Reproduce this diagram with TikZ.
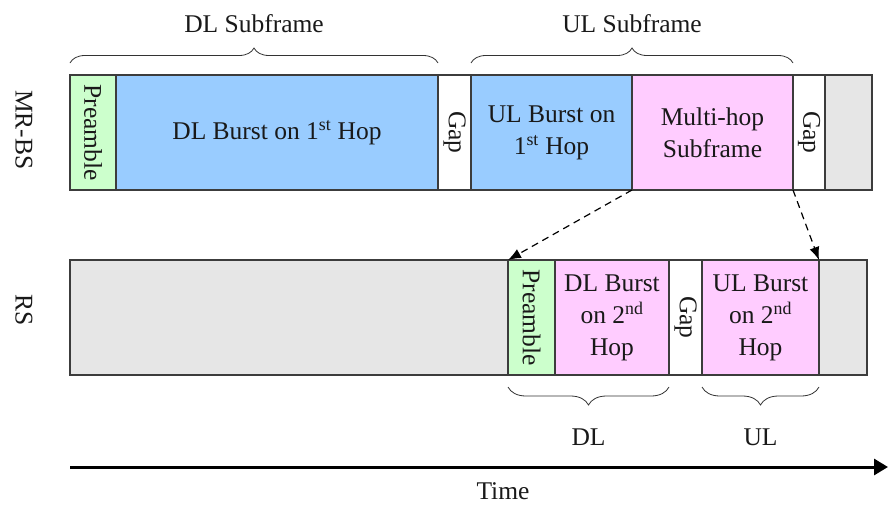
\documentclass[tikz,border=0pt]{standalone}
\usepackage{fontspec}
\setmainfont{Liberation Serif}
\usepackage{graphicx}
\usetikzlibrary{arrows.meta,positioning,decorations.pathreplacing}

\definecolor{pregreen}{RGB}{204,255,204}
\definecolor{burstblue}{RGB}{153,204,255}
\definecolor{hoppink}{RGB}{255,204,255}
\definecolor{idlegray}{RGB}{230,230,230}
\definecolor{edgegray}{RGB}{60,60,60}

\tikzset{
  slot/.style={draw=edgegray, line width=1.1pt, minimum height=115pt,
    inner sep=0pt, outer sep=0pt, align=center, anchor=west},
  lbl/.style={font=\fontsize{25.5}{32}\selectfont, text=black!90},
  brc/.style={decorate, decoration={brace, amplitude=#1}, line width=0.8pt, draw=black!80},
  brc/.default=15pt,
  relay/.style={dash pattern=on 7pt off 5pt, line width=1.2pt, -{Latex[length=13pt, width=10pt]}},
}

\begin{document}
\begin{tikzpicture}[x=1pt, y=-1pt, every node/.style={lbl}]
\useasboundingbox (0,0) rectangle (888,506);

% MR-BS frame
\node[slot, fill=pregreen, minimum width=46pt, anchor=north west] (pre1) at (70,75) {\rotatebox{-90}{Preamble}};
\node[slot, fill=burstblue, minimum width=322pt, right=0pt of pre1] (dl1) {DL Burst on 1\textsuperscript{st} Hop};
\node[slot, fill=white, minimum width=33pt, right=0pt of dl1] (gap1) {\rotatebox{-90}{Gap}};
\node[slot, fill=burstblue, minimum width=161pt, right=0pt of gap1] (ul1) {UL Burst on\\1\textsuperscript{st} Hop};
\node[slot, fill=hoppink, minimum width=161pt, right=0pt of ul1] (mh) {Multi-hop\\Subframe};
\node[slot, fill=white, minimum width=32pt, right=0pt of mh] (gap2) {\rotatebox{-90}{Gap}};
\node[slot, fill=idlegray, minimum width=47pt, right=0pt of gap2] (idle1) {};

% RS frame
\node[slot, fill=idlegray, minimum width=438pt, anchor=north west] (idle2) at (70,260) {};
\node[slot, fill=pregreen, minimum width=47pt, right=0pt of idle2] (pre2) {\rotatebox{-90}{Preamble}};
\node[slot, fill=hoppink, minimum width=114pt, right=0pt of pre2] (dl2) {DL Burst\\on 2\textsuperscript{nd}\\Hop};
\node[slot, fill=white, minimum width=33pt, right=0pt of dl2] (gap3) {\rotatebox{-90}{Gap}};
\node[slot, fill=hoppink, minimum width=117pt, right=0pt of gap3] (ul2) {UL Burst\\on 2\textsuperscript{nd}\\Hop};
\node[slot, fill=idlegray, minimum width=48pt, right=0pt of ul2] (idle3) {};

% row names
\node[rotate=-90] (mrbs) at (24,130) {MR-BS};
\node[rotate=-90] (rs) at (24,310) {RS};

% braces
\draw[brc] ([yshift=12pt]pre1.north west) -- ([yshift=12pt]dl1.north east)
  node[midway, above=27pt] (dlsf) {DL Subframe};
\draw[brc] ([yshift=12pt]ul1.north west) -- ([yshift=12pt]mh.north east)
  node[midway, above=27pt] (ulsf) {UL Subframe};
\draw[brc=18pt] ([yshift=-12pt]dl2.south east) -- ([yshift=-12pt]pre2.south west)
  node[midway, below=38pt] (dlrs) {DL};
\draw[brc=18pt] ([yshift=-12pt]ul2.south east) -- ([yshift=-12pt]ul2.south west)
  node[midway, below=38pt] (ulrs) {UL};

% relay mapping
\draw[relay] (mh.south west) -- (pre2.north west);
\draw[relay] (mh.south east) -- (ul2.north east);

% time axis
\coordinate (t0) at (70,467);
\coordinate (t1) at (888,467);
\draw[line width=3pt, -{Triangle[length=14pt, width=16pt]}] (t0) -- (t1);
\node[inner sep=0pt] (time) at (503,491) {Time};
\end{tikzpicture}
\end{document}
